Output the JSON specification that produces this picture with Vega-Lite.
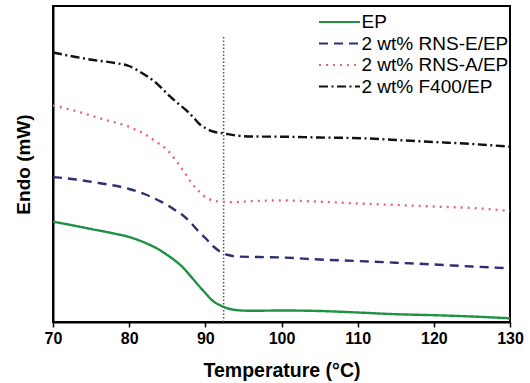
{
  "$schema": "https://vega.github.io/schema/vega-lite/v6.json",
  "width": 457,
  "height": 316,
  "autosize": {"type": "none"},
  "padding": {"left": 53, "top": 6, "right": 20, "bottom": 61},
  "background": "white",
  "config": {
    "font": "Liberation Sans",
    "view": {"stroke": "black", "strokeWidth": 2},
    "axis": {
      "grid": false,
      "domainColor": "black",
      "domainWidth": 2,
      "tickColor": "black",
      "labelColor": "black",
      "titleColor": "black",
      "labelFont": "Liberation Sans",
      "titleFont": "Liberation Sans"
    }
  },
  "datasets": {
    "dsc": [
      {"T": 70, "heat": 100.3, "sample": "EP"},
      {"T": 72, "heat": 97.5, "sample": "EP"},
      {"T": 75, "heat": 93, "sample": "EP"},
      {"T": 78, "heat": 88.5, "sample": "EP"},
      {"T": 80, "heat": 85, "sample": "EP"},
      {"T": 82, "heat": 79.5, "sample": "EP"},
      {"T": 84, "heat": 72, "sample": "EP"},
      {"T": 85, "heat": 67, "sample": "EP"},
      {"T": 86, "heat": 61.5, "sample": "EP"},
      {"T": 87, "heat": 55, "sample": "EP"},
      {"T": 88, "heat": 46.5, "sample": "EP"},
      {"T": 89, "heat": 37.5, "sample": "EP"},
      {"T": 90, "heat": 29, "sample": "EP"},
      {"T": 91, "heat": 21, "sample": "EP"},
      {"T": 92, "heat": 16.5, "sample": "EP"},
      {"T": 93, "heat": 13.5, "sample": "EP"},
      {"T": 94, "heat": 12, "sample": "EP"},
      {"T": 96, "heat": 11.2, "sample": "EP"},
      {"T": 100, "heat": 11.5, "sample": "EP"},
      {"T": 105, "heat": 11, "sample": "EP"},
      {"T": 110, "heat": 9.5, "sample": "EP"},
      {"T": 115, "heat": 7.8, "sample": "EP"},
      {"T": 120, "heat": 6.8, "sample": "EP"},
      {"T": 125, "heat": 5.5, "sample": "EP"},
      {"T": 130, "heat": 3.7, "sample": "EP"},

      {"T": 70, "heat": 145, "sample": "2 wt% RNS-E/EP"},
      {"T": 73, "heat": 142.5, "sample": "2 wt% RNS-E/EP"},
      {"T": 76, "heat": 139, "sample": "2 wt% RNS-E/EP"},
      {"T": 80, "heat": 133, "sample": "2 wt% RNS-E/EP"},
      {"T": 82, "heat": 128, "sample": "2 wt% RNS-E/EP"},
      {"T": 84, "heat": 121, "sample": "2 wt% RNS-E/EP"},
      {"T": 85, "heat": 117, "sample": "2 wt% RNS-E/EP"},
      {"T": 86, "heat": 112, "sample": "2 wt% RNS-E/EP"},
      {"T": 87, "heat": 107, "sample": "2 wt% RNS-E/EP"},
      {"T": 88, "heat": 100, "sample": "2 wt% RNS-E/EP"},
      {"T": 89, "heat": 91.5, "sample": "2 wt% RNS-E/EP"},
      {"T": 90, "heat": 84, "sample": "2 wt% RNS-E/EP"},
      {"T": 91, "heat": 76, "sample": "2 wt% RNS-E/EP"},
      {"T": 92, "heat": 70, "sample": "2 wt% RNS-E/EP"},
      {"T": 93, "heat": 67, "sample": "2 wt% RNS-E/EP"},
      {"T": 94, "heat": 65.5, "sample": "2 wt% RNS-E/EP"},
      {"T": 97, "heat": 65, "sample": "2 wt% RNS-E/EP"},
      {"T": 100, "heat": 64.5, "sample": "2 wt% RNS-E/EP"},
      {"T": 105, "heat": 62.5, "sample": "2 wt% RNS-E/EP"},
      {"T": 110, "heat": 61, "sample": "2 wt% RNS-E/EP"},
      {"T": 115, "heat": 59.3, "sample": "2 wt% RNS-E/EP"},
      {"T": 120, "heat": 57.5, "sample": "2 wt% RNS-E/EP"},
      {"T": 125, "heat": 55.5, "sample": "2 wt% RNS-E/EP"},
      {"T": 130, "heat": 53.7, "sample": "2 wt% RNS-E/EP"},

      {"T": 70, "heat": 216.5, "sample": "2 wt% RNS-A/EP"},
      {"T": 73, "heat": 211, "sample": "2 wt% RNS-A/EP"},
      {"T": 76, "heat": 204, "sample": "2 wt% RNS-A/EP"},
      {"T": 80, "heat": 195, "sample": "2 wt% RNS-A/EP"},
      {"T": 82, "heat": 188, "sample": "2 wt% RNS-A/EP"},
      {"T": 83.6, "heat": 180, "sample": "2 wt% RNS-A/EP"},
      {"T": 85, "heat": 172, "sample": "2 wt% RNS-A/EP"},
      {"T": 86, "heat": 163, "sample": "2 wt% RNS-A/EP"},
      {"T": 86.7, "heat": 155.5, "sample": "2 wt% RNS-A/EP"},
      {"T": 87.5, "heat": 147, "sample": "2 wt% RNS-A/EP"},
      {"T": 88.2, "heat": 139, "sample": "2 wt% RNS-A/EP"},
      {"T": 89, "heat": 132, "sample": "2 wt% RNS-A/EP"},
      {"T": 90, "heat": 125, "sample": "2 wt% RNS-A/EP"},
      {"T": 91, "heat": 121.5, "sample": "2 wt% RNS-A/EP"},
      {"T": 92, "heat": 120.3, "sample": "2 wt% RNS-A/EP"},
      {"T": 93.5, "heat": 119.7, "sample": "2 wt% RNS-A/EP"},
      {"T": 96, "heat": 120.8, "sample": "2 wt% RNS-A/EP"},
      {"T": 100, "heat": 121.5, "sample": "2 wt% RNS-A/EP"},
      {"T": 105, "heat": 120.3, "sample": "2 wt% RNS-A/EP"},
      {"T": 110, "heat": 118.5, "sample": "2 wt% RNS-A/EP"},
      {"T": 115, "heat": 117, "sample": "2 wt% RNS-A/EP"},
      {"T": 120, "heat": 115.5, "sample": "2 wt% RNS-A/EP"},
      {"T": 125, "heat": 114, "sample": "2 wt% RNS-A/EP"},
      {"T": 130, "heat": 111, "sample": "2 wt% RNS-A/EP"},

      {"T": 70, "heat": 269.5, "sample": "2 wt% F400/EP"},
      {"T": 73, "heat": 265, "sample": "2 wt% F400/EP"},
      {"T": 75.3, "heat": 262, "sample": "2 wt% F400/EP"},
      {"T": 78.4, "heat": 258.7, "sample": "2 wt% F400/EP"},
      {"T": 80, "heat": 256, "sample": "2 wt% F400/EP"},
      {"T": 81.4, "heat": 250.3, "sample": "2 wt% F400/EP"},
      {"T": 82.5, "heat": 245, "sample": "2 wt% F400/EP"},
      {"T": 83.6, "heat": 238.7, "sample": "2 wt% F400/EP"},
      {"T": 84.5, "heat": 232, "sample": "2 wt% F400/EP"},
      {"T": 85.4, "heat": 225.3, "sample": "2 wt% F400/EP"},
      {"T": 86.5, "heat": 218, "sample": "2 wt% F400/EP"},
      {"T": 87.6, "heat": 211, "sample": "2 wt% F400/EP"},
      {"T": 88.5, "heat": 204, "sample": "2 wt% F400/EP"},
      {"T": 89.3, "heat": 197.5, "sample": "2 wt% F400/EP"},
      {"T": 90, "heat": 194, "sample": "2 wt% F400/EP"},
      {"T": 91, "heat": 190.5, "sample": "2 wt% F400/EP"},
      {"T": 92.4, "heat": 188.7, "sample": "2 wt% F400/EP"},
      {"T": 94, "heat": 186.5, "sample": "2 wt% F400/EP"},
      {"T": 96.3, "heat": 185.5, "sample": "2 wt% F400/EP"},
      {"T": 100, "heat": 185.3, "sample": "2 wt% F400/EP"},
      {"T": 105, "heat": 184.5, "sample": "2 wt% F400/EP"},
      {"T": 110.9, "heat": 183.7, "sample": "2 wt% F400/EP"},
      {"T": 115, "heat": 182, "sample": "2 wt% F400/EP"},
      {"T": 120, "heat": 180, "sample": "2 wt% F400/EP"},
      {"T": 125, "heat": 178, "sample": "2 wt% F400/EP"},
      {"T": 130, "heat": 175.3, "sample": "2 wt% F400/EP"}
    ],
    "tg": [
      {"T": 92.4, "low": 0, "high": 285}
    ]
  },
  "layer": [
    {
      "data": {"name": "tg"},
      "mark": {"type": "rule", "color": "#555555", "strokeWidth": 1.5, "strokeDash": [1.5, 2]},
      "encoding": {
        "x": {"field": "T", "type": "quantitative"},
        "y": {"field": "low", "type": "quantitative"},
        "y2": {"field": "high"}
      }
    },
    {
      "data": {"name": "dsc"},
      "mark": {"type": "line", "interpolate": "monotone", "strokeWidth": 2.4, "clip": true},
      "encoding": {
        "x": {
          "field": "T",
          "type": "quantitative",
          "scale": {"domain": [70, 130], "nice": false, "zero": false},
          "axis": {
            "title": "Temperature (°C)",
            "values": [70, 75, 80, 85, 90, 95, 100, 105, 110, 115, 120, 125, 130],
            "labelExpr": "datum.value % 10 === 0 ? datum.label : ''",
            "tickSize": 5,
            "tickWidth": 1.5,
            "labelFontSize": 16,
            "labelFontWeight": "bold",
            "labelPadding": 3,
            "labelFlush": false,
            "labelOverlap": false,
            "titleFontSize": 19.5,
            "titleFontWeight": "bold",
            "titlePadding": 15
          }
        },
        "y": {
          "field": "heat",
          "type": "quantitative",
          "scale": {"domain": [0, 316], "nice": false},
          "axis": {
            "title": "Endo (mW)",
            "labels": false,
            "ticks": false,
            "titleFontSize": 19,
            "titleFontWeight": "bold",
            "titlePadding": 20
          }
        },
        "color": {
          "field": "sample",
          "type": "nominal",
          "sort": null,
          "scale": {
            "domain": ["EP", "2 wt% RNS-E/EP", "2 wt% RNS-A/EP", "2 wt% F400/EP"],
            "range": ["#1f9142", "#2c2f72", "#e36a74", "#111111"]
          },
          "legend": {
            "title": null,
            "orient": "none",
            "legendX": 277,
            "legendY": 6.5,
            "padding": 0,
            "symbolType": "M-4.1,0H4.1",
            "symbolSize": 100,
            "symbolStrokeWidth": 2,
            "labelFontSize": 19,
            "labelOffset": 12.5,
            "labelColor": "black",
            "rowPadding": 1.5
          }
        },
        "strokeDash": {
          "field": "sample",
          "type": "nominal",
          "sort": null,
          "scale": {
            "domain": ["EP", "2 wt% RNS-E/EP", "2 wt% RNS-A/EP", "2 wt% F400/EP"],
            "range": [[1, 0], [9, 6], [2, 5], [9, 3.5, 2, 3.5]]
          }
        }
      }
    }
  ]
}
